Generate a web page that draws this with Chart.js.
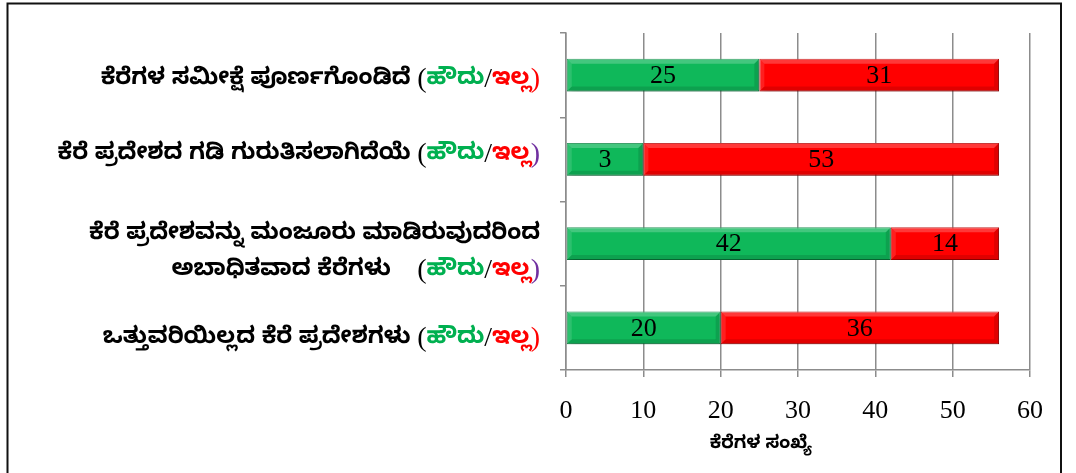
<!DOCTYPE html>
<html>
<head>
<meta charset="utf-8">
<script src="https://cdn.jsdelivr.net/npm/chart.js@4.4.1/dist/chart.umd.min.js"></script>
<style>
  html, body { margin: 0; padding: 0; background: #fff; }
  #wrap { width: 1076px; height: 473px; position: relative; }
</style>
</head>
<body>
<div id="wrap"><canvas id="kereChart"></canvas></div>
<script>
// category text (each row may have two lines), answer words appended in colour
const categories = [
    ['ಕೆರೆಗಳ ಸಮೀಕ್ಷೆ ಪೂರ್ಣಗೊಂಡಿದೆ '],
    ['ಕೆರೆ ಪ್ರದೇಶದ ಗಡಿ ಗುರುತಿಸಲಾಗಿದೆಯೆ '],
    ['ಕೆರೆ ಪ್ರದೇಶವನ್ನು ಮಂಜೂರು ಮಾಡಿರುವುದರಿಂದ', 'ಅಬಾಧಿತವಾದ ಕೆರೆಗಳು    '],
    ['ಒತ್ತುವರಿಯಿಲ್ಲದ ಕೆರೆ ಪ್ರದೇಶಗಳು ']
];
const yesWord = 'ಹೌದು';
const noWord = 'ಇಲ್ಲ';
const axisTitle = 'ಕೆರೆಗಳ ಸಂಖ್ಯೆ';

// bar lengths as drawn (the 2nd green bar reaches 10 though it is labelled 3)
const yesValues = [25, 10, 42, 20];
const noValues = [31, 46, 14, 36];
// numbers printed on the bars
const yesLabels = ['25', '3', '42', '20'];
const noLabels = ['31', '53', '14', '36'];

const xMin = 0, xMax = 60, xStep = 10;

const GREEN = '#0FB85A';
const RED = '#FF0000';
const TXT_GREEN = '#00B050';
const GRID = '#8C8C8C';
const SERIF = '"Liberation Serif", "Times New Roman", serif';
const KN_FONT = '"Noto Sans Kannada", "Tunga", "Noto Sans", sans-serif';
const KN_BOLD = 'bold 23px ' + KN_FONT;
const PUNCT = '28px ' + SERIF;
// vertical nudge of each row label relative to its bar (px)
const labelNudge = [7, -3, 11, 13];
const closeParenColor = [RED, '#7030A0', '#7030A0', RED];

const rowLabels = {
    id: 'rowLabels',
    afterDraw(chart) {
        const c = chart.ctx;
        const yScale = chart.scales.y;
        const right = 540;
        c.save();
        c.textBaseline = 'middle';
        c.textAlign = 'left';
        const widthOf = p => { c.font = p[2]; return c.measureText(p[0]).width; };
        categories.forEach((lines, i) => {
            const yc = yScale.getPixelForValue(i) + labelNudge[i];
            const lh = 36;
            const y0 = yc - (lines.length - 1) * lh / 2;
            lines.forEach((line, j) => {
                const y = y0 + j * lh;
                const last = j === lines.length - 1;
                let pieces = [[line, '#000', KN_BOLD]];
                if (last) {
                    pieces = pieces.concat([
                        ['(', '#000', PUNCT],
                        [yesWord, TXT_GREEN, KN_BOLD],
                        ['/', '#000', PUNCT],
                        [noWord, RED, KN_BOLD],
                        [')', closeParenColor[i], PUNCT]
                    ]);
                }
                const total = pieces.reduce((s, p) => s + widthOf(p), 0);
                let x = right - total;
                pieces.forEach(p => {
                    c.font = p[2];
                    c.fillStyle = p[1];
                    c.fillText(p[0], x, p[2] === PUNCT ? y - 2 : y);
                    x += c.measureText(p[0]).width;
                });
            });
        });
        // x axis title
        c.fillStyle = '#000';
        c.textAlign = 'center';
        c.font = 'bold 18px ' + KN_FONT;
        c.fillText(axisTitle, 761, 446);
        // frame
        c.strokeStyle = '#111';
        c.lineWidth = 2;
        c.beginPath();
        c.moveTo(7.5, 473);
        c.lineTo(7.5, 3.5);
        c.lineTo(1061, 3.5);
        c.lineTo(1061, 473);
        c.stroke();
        c.restore();
    }
};

// bevel highlights drawn over each bar element
const barBevel = {
    id: 'barBevel',
    afterDatasetsDraw(chart) {
        const c = chart.ctx;
        c.save();
        [0, 1].forEach(d => {
            chart.getDatasetMeta(d).data.forEach(bar => {
                const x0 = Math.min(bar.x, bar.base), x1 = Math.max(bar.x, bar.base);
                const y0 = bar.y - bar.height / 2, y1 = bar.y + bar.height / 2;
                const b = 5;
                c.fillStyle = 'rgba(255,255,255,0.22)';
                c.beginPath();
                c.moveTo(x0, y0); c.lineTo(x1, y0); c.lineTo(x1 - b, y0 + b); c.lineTo(x0 + b, y0 + b);
                c.closePath(); c.fill();
                c.fillStyle = 'rgba(255,255,255,0.12)';
                c.beginPath();
                c.moveTo(x0, y0); c.lineTo(x0 + b, y0 + b); c.lineTo(x0 + b, y1 - b); c.lineTo(x0, y1);
                c.closePath(); c.fill();
                c.fillStyle = 'rgba(0,0,0,0.12)';
                c.beginPath();
                c.moveTo(x0, y1); c.lineTo(x1, y1); c.lineTo(x1 - b, y1 - b); c.lineTo(x0 + b, y1 - b);
                c.closePath(); c.fill();
                c.beginPath();
                c.moveTo(x1, y0); c.lineTo(x1 - b, y0 + b); c.lineTo(x1 - b, y1 - b); c.lineTo(x1, y1);
                c.closePath(); c.fill();
            });
        });
        c.restore();
    }
};

const barValues = {
    id: 'barValues',
    afterDatasetsDraw(chart) {
        const c = chart.ctx;
        c.save();
        c.font = '26px ' + SERIF;
        c.fillStyle = '#000';
        c.textAlign = 'center';
        c.textBaseline = 'middle';
        [yesLabels, noLabels].forEach((labels, d) => {
            chart.getDatasetMeta(d).data.forEach((bar, i) => {
                const xc = (bar.x + bar.base) / 2;
                c.fillText(labels[i], xc, bar.y + 1);
            });
        });
        c.restore();
    }
};

const barShadow = {
    id: 'barShadow',
    beforeDatasetsDraw(chart) {
        const c = chart.ctx;
        c.save();
        c.shadowColor = 'rgba(0,0,0,0.22)';
        c.shadowBlur = 6;
        c.shadowOffsetX = 3;
        c.shadowOffsetY = 3;
    },
    afterDatasetsDraw(chart) {
        chart.ctx.restore();
    }
};

const ctx = document.getElementById('kereChart').getContext('2d');
const kereChart = new Chart(ctx, {
    type: 'bar',
    data: {
        labels: categories.map(l => l.join(' ')),
        datasets: [{
            label: yesWord,
            data: yesValues,
            backgroundColor: GREEN,
            borderColor: '#0A8A44',
            borderWidth: 1,
            borderSkipped: false,
            barPercentage: 0.39,
            categoryPercentage: 1
        }, {
            label: noWord,
            data: noValues,
            backgroundColor: RED,
            borderColor: '#C00000',
            borderWidth: 1,
            borderSkipped: false,
            barPercentage: 0.39,
            categoryPercentage: 1
        }]
    },
    options: {
        indexAxis: 'y',
        responsive: true,
        maintainAspectRatio: false,
        animation: false,
        layout: { padding: { left: 0, right: 46, top: 33, bottom: 0 } },
        plugins: {
            legend: { display: false },
            tooltip: { enabled: false }
        },
        scales: {
            x: {
                stacked: true,
                min: xMin,
                max: xMax,
                ticks: {
                    stepSize: xStep,
                    color: '#000',
                    padding: 19,
                    font: { family: SERIF, size: 26 }
                },
                grid: { color: GRID, lineWidth: 1.5, tickLength: 7 },
                border: { color: GRID, width: 1.5 },
                afterFit(scale) { scale.height = 103; }
            },
            y: {
                stacked: true,
                ticks: { display: false },
                grid: { drawOnChartArea: false, color: GRID, lineWidth: 1.5, tickLength: 6, offset: true },
                border: { color: GRID, width: 1.5 },
                afterFit(scale) { scale.width = 566; }
            }
        }
    },
    plugins: [barShadow, barBevel, barValues, rowLabels]
});
</script>
</body>
</html>
